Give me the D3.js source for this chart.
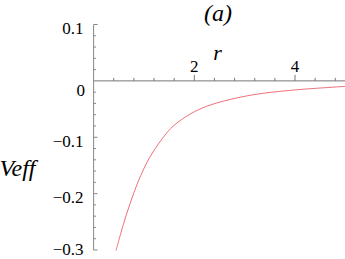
<!doctype html>
<html lang="en">
<head>
    <meta charset="UTF-8">
    <title>Veff</title>
    <script src="https://d3js.org/d3.v7.min.js"></script>
    <style>
        body { margin: 0; background: #fff; }
        svg text { font-family: "Times New Roman", "Liberation Serif", "DejaVu Serif", serif; }
    </style>
</head>
<body>
<div id="chart-area"></div>

<script>
const chartW = 345;
const chartH = 259;

// values
const rValues = [0.445, 0.59, 0.723, 0.888, 1.1, 1.384, 1.583, 1.915, 2.246, 2.576, 2.908, 3.37, 4.034, 4.695, 5.0];
const vValues = [-0.301, -0.255, -0.218, -0.178, -0.138, -0.100, -0.080, -0.059, -0.045, -0.036, -0.029, -0.022, -0.0158, -0.0115, -0.0097];

const xTicks = [2, 4];
const xMinorTicks = [0.4, 0.8, 1.2, 1.6, 2.4, 2.8, 3.2, 3.6, 4.4, 4.8];
const yTicks = [0.1, 0, -0.1, -0.2, -0.3];
const yMinorTicks = [0.08, 0.06, 0.04, 0.02, -0.02, -0.04, -0.06, -0.08, -0.12, -0.14, -0.16, -0.18, -0.22, -0.24, -0.26, -0.28];

const x = d3.scaleLinear()
    .domain([0, 5])
    .range([93.6, 345.35]);

const y = d3.scaleLinear()
    .domain([-0.3, 0.1])
    .range([250, 24.5]);

const svg = d3.select('#chart-area')
    .append('svg')
    .attr('width', chartW)
    .attr('height', chartH);

const axisColor = '#888';

// y axis
svg.append('line')
    .attr('x1', x(0)).attr('x2', x(0))
    .attr('y1', y(0.1)).attr('y2', y(-0.3))
    .attr('stroke', axisColor);

svg.selectAll('.ytick')
    .data(yTicks.filter(d => d !== 0))
    .enter()
    .append('line')
    .attr('x1', x(0)).attr('x2', x(0) + 4)
    .attr('y1', d => y(d)).attr('y2', d => y(d))
    .attr('stroke', axisColor);

svg.selectAll('.yminor')
    .data(yMinorTicks)
    .enter()
    .append('line')
    .attr('x1', x(0)).attr('x2', x(0) + 2.5)
    .attr('y1', d => y(d)).attr('y2', d => y(d))
    .attr('stroke', axisColor);

svg.selectAll('.ylabel')
    .data(yTicks)
    .enter()
    .append('text')
    .attr('x', d => d === 0 ? 85 : 83.5)
    .attr('y', d => d === 0 ? y(d) + 15.5 : Math.min(y(d) + 9.5, 255))
    .attr('text-anchor', 'end')
    .attr('font-size', 17)
    .attr('fill', '#000')
    .text(d => d === 0 ? '0' : d3.format('.1f')(d).replace('-', '\u2212'));

// x axis
svg.append('line')
    .attr('x1', x(0)).attr('x2', chartW)
    .attr('y1', y(0)).attr('y2', y(0))
    .attr('stroke', '#777');

svg.selectAll('.xtick')
    .data(xTicks)
    .enter()
    .append('line')
    .attr('x1', d => x(d)).attr('x2', d => x(d))
    .attr('y1', y(0)).attr('y2', y(0) - 6)
    .attr('stroke', '#777');

svg.selectAll('.xminor')
    .data(xMinorTicks)
    .enter()
    .append('line')
    .attr('x1', d => x(d)).attr('x2', d => x(d))
    .attr('y1', y(0)).attr('y2', y(0) - 3)
    .attr('stroke', '#777');

svg.selectAll('.xlabel')
    .data(xTicks)
    .enter()
    .append('text')
    .attr('x', d => x(d))
    .attr('y', y(0) - 9)
    .attr('text-anchor', 'middle')
    .attr('font-size', 17)
    .attr('fill', '#000')
    .text(d => d);

// axis labels and title
svg.append('text')
    .attr('x', 217.5)
    .attr('y', 60)
    .attr('text-anchor', 'middle')
    .attr('font-size', 22)
    .attr('font-style', 'italic')
    .text('r');

svg.append('text')
    .attr('x', 35.5)
    .attr('y', 176)
    .attr('text-anchor', 'end')
    .attr('font-size', 24)
    .attr('font-style', 'italic')
    .text('Veff');

svg.append('text')
    .attr('x', 218)
    .attr('y', 20.5)
    .attr('text-anchor', 'middle')
    .attr('font-size', 24)
    .attr('font-style', 'italic')
    .text('(a)');

// curve
const line = d3.line()
    .x((d, i) => x(rValues[i]))
    .y(d => y(d))
    .curve(d3.curveCatmullRom.alpha(0.5));

svg.append('path')
    .datum(vValues)
    .attr('d', line)
    .attr('fill', 'none')
    .attr('stroke', '#f0707a')
    .attr('stroke-width', 1);
</script>

</body>
</html>
